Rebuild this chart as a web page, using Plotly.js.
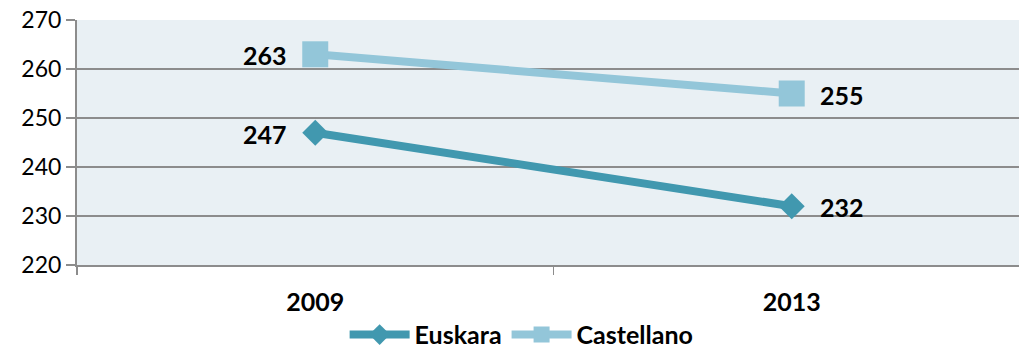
<!DOCTYPE html>
<html><head><meta charset="utf-8">
<script src="https://cdn.plot.ly/plotly-3.0.1.min.js"></script>
<style>body{margin:0;background:#fff}#c{width:1019px;height:349px}</style>
</head><body><div id="c"></div>
<script>
const years = ['2009', '2013'];
const euskara = [247, 232];
const castellano = [263, 255];
const yTicks = [220, 230, 240, 250, 260, 270];

const FONT = 'Lato, "Open Sans", sans-serif';
const lblFont = {family: FONT, size: 25, color: '#000', weight: 'bold'};
const traces = [
  {x: years, y: euskara, name: 'Euskara', mode: 'lines+markers',
   line: {color: '#4198AF', width: 8},
   marker: {symbol: 'diamond', size: 20, color: '#4198AF'}},
  {x: years, y: castellano, name: 'Castellano', mode: 'lines+markers',
   line: {color: '#93C6D9', width: 8},
   marker: {symbol: 'square', size: 26, color: '#93C6D9'}}
];
const annotations = [];
[euskara, castellano].forEach(series => {
  series.forEach((v, i) => {
    annotations.push({x: i, y: v, xref: 'x', yref: 'y', text: String(v), showarrow: false,
      xanchor: i === 0 ? 'right' : 'left', xshift: i === 0 ? -26 : 26, yshift: -1, font: lblFont});
  });
});
const layout = {
  width: 1019, height: 349,
  margin: {l: 77, r: 0, t: 20, b: 84, autoexpand: false},
  paper_bgcolor: '#fff', plot_bgcolor: '#E9F0F4',
  font: {family: FONT, color: '#000'},
  showlegend: true, annotations: annotations,
  legend: {orientation: 'h', x: 0.472, xanchor: 'center', xref: 'paper', y: -0.285, yanchor: 'middle',
           font: {size: 25, weight: 'bold', color: '#000'}, itemwidth: 60, tracegroupgap: 0},
  xaxis: {type: 'category', range: [-0.5, 1.477], tickson: 'boundaries', ticks: 'outside',
          ticklen: 8, tickcolor: '#8c8c8c', tickwidth: 1.5, showgrid: false,
          showline: true, linecolor: '#8c8c8c', linewidth: 2, zeroline: false,
          tickfont: {size: 25, weight: 'bold', color: '#000'}, ticklabelstandoff: 14},
  yaxis: {range: [220, 270], tickvals: yTicks, ticks: 'outside', ticklen: 9,
          tickcolor: '#8c8c8c', tickwidth: 1.5, showgrid: true, gridcolor: '#8c8c8c', gridwidth: 1.5,
          showline: true, linecolor: '#8c8c8c', linewidth: 2, zeroline: false,
          tickfont: {size: 23, color: '#000'}, ticklabelstandoff: 0}
};
Plotly.newPlot('c', traces, layout, {displayModeBar: false, staticPlot: true});
</script></body></html>
